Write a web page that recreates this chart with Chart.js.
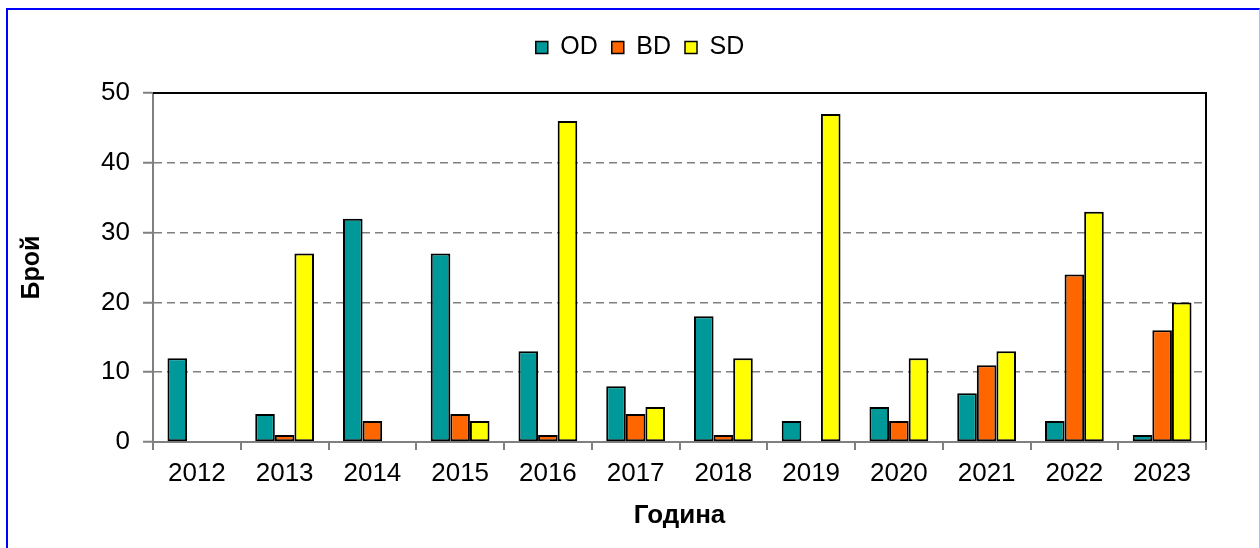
<!DOCTYPE html>
<html>
<head>
<meta charset="utf-8">
<script src="https://cdn.jsdelivr.net/npm/chart.js@4"></script>
<style>
  html, body { margin: 0; padding: 0; background: #fff; }
  #wrap { position: relative; width: 1260px; height: 548px; overflow: hidden; }
  #frame {
    position: absolute; left: 6px; top: 8px; width: 1251px; height: 560px;
    border-left: 2px solid #0000ff; border-top: 2px solid #0000ff; border-right: 1px solid #b8b8ff;
    pointer-events: none;
  }
</style>
</head>
<body>
<div id="wrap">
  <canvas id="myChart" width="1260" height="548"></canvas>
  <div id="frame"></div>
</div>
<script>
const years = ["2012", "2013", "2014", "2015", "2016", "2017", "2018", "2019", "2020", "2021", "2022", "2023"];
const odValues = [12, 4, 32, 27, 13, 8, 18, 3, 5, 7, 3, 1];
const bdValues = [0, 1, 3, 4, 1, 4, 1, 0, 3, 11, 24, 16];
const sdValues = [0, 27, 0, 3, 46, 5, 12, 47, 12, 13, 33, 20];
const yTicks = [0, 10, 20, 30, 40, 50];

Chart.defaults.font.family = 'Arial, "Liberation Sans", sans-serif';
Chart.defaults.color = "#000";

// zero bars should not leave a black line on the axis
const edge = (c) => (c.raw === 0 ? 0 : 2);

// plot area frame (top/right black), legend spacing and position
const plotFrame = {
  id: "plotFrame",
  afterInit(chart) {
    const legend = chart.legend;
    const fit = legend.fit;
    legend.fit = function () {
      fit.call(this);
      this.height = 93 - 21;
    };
  },
  afterLayout(chart) {
    const lg = chart.legend;
    const dx = 640 - (lg.left + lg.right) / 2;
    lg.left += dx;
    lg.right += dx;
  },
  beforeDatasetsDraw(chart) {
    const { ctx, chartArea: a } = chart;
    ctx.save();
    ctx.strokeStyle = "#000";
    ctx.lineWidth = 2;
    ctx.beginPath();
    ctx.moveTo(a.left, a.top);
    ctx.lineTo(a.right, a.top);
    ctx.lineTo(a.right, a.bottom);
    ctx.stroke();
    ctx.restore();
  },
};

new Chart(document.getElementById("myChart"), {
  type: "bar",
  data: {
    labels: years,
    datasets: [
      { label: "OD", data: odValues, backgroundColor: "#009999", borderColor: "#000", borderWidth: edge },
      { label: "BD", data: bdValues, backgroundColor: "#FF6600", borderColor: "#000", borderWidth: edge },
      { label: "SD", data: sdValues, backgroundColor: "#FFFF00", borderColor: "#000", borderWidth: edge },
    ],
  },
  options: {
    responsive: false,
    animation: false,
    layout: { padding: { left: 8, right: 54, top: 21, bottom: 0 } },
    datasets: {
      bar: { barPercentage: 1, categoryPercentage: 0.67, borderSkipped: false },
    },
    plugins: {
      legend: {
        labels: {
          font: { size: 25 },
          boxWidth: 12,
          boxHeight: 12,
          padding: 14,
          color: "#000",
          generateLabels: (chart) =>
            Chart.defaults.plugins.legend.labels.generateLabels(chart).map((item) => ({
              ...item,
              lineWidth: 1.5,
              strokeStyle: "#000",
            })),
        },
      },
      tooltip: { enabled: false },
    },
    scales: {
      x: {
        afterFit: (s) => { s.height = 548 - 442; },
        grid: { offset: true, drawOnChartArea: false, tickLength: 8, color: "#808080", lineWidth: 2 },
        border: { color: "#808080", width: 2 },
        ticks: { padding: 8, font: { size: 26 }, color: "#000", maxRotation: 0, autoSkip: false },
        title: {
          display: true,
          text: "Година",
          font: { size: 26, weight: "bold" },
          color: "#000",
          padding: { top: 0, bottom: 17 },
        },
      },
      y: {
        min: 0,
        max: 50,
        afterBuildTicks: (s) => { s.ticks = yTicks.map((v) => ({ value: v })); },
        afterFit: (s) => { s.width = 153 - 8; },
        grid: {
          color: (c) => (c.tick && (c.tick.value === 0 || c.tick.value === 50) ? "rgba(0,0,0,0)" : "#808080"),
          lineWidth: 1.5,
          tickLength: 10,
          tickColor: "#808080",
          tickWidth: 2,
          tickBorderDash: [],
        },
        border: { color: "#808080", width: 2, dash: [8, 5] },
        ticks: { padding: 13, font: { size: 26 }, color: "#000" },
        title: {
          display: true,
          text: "Брой",
          font: { size: 25, weight: "bold" },
          color: "#000",
          padding: { top: 9, bottom: 0 },
        },
      },
    },
  },
  plugins: [plotFrame],
});
</script>
</body>
</html>
